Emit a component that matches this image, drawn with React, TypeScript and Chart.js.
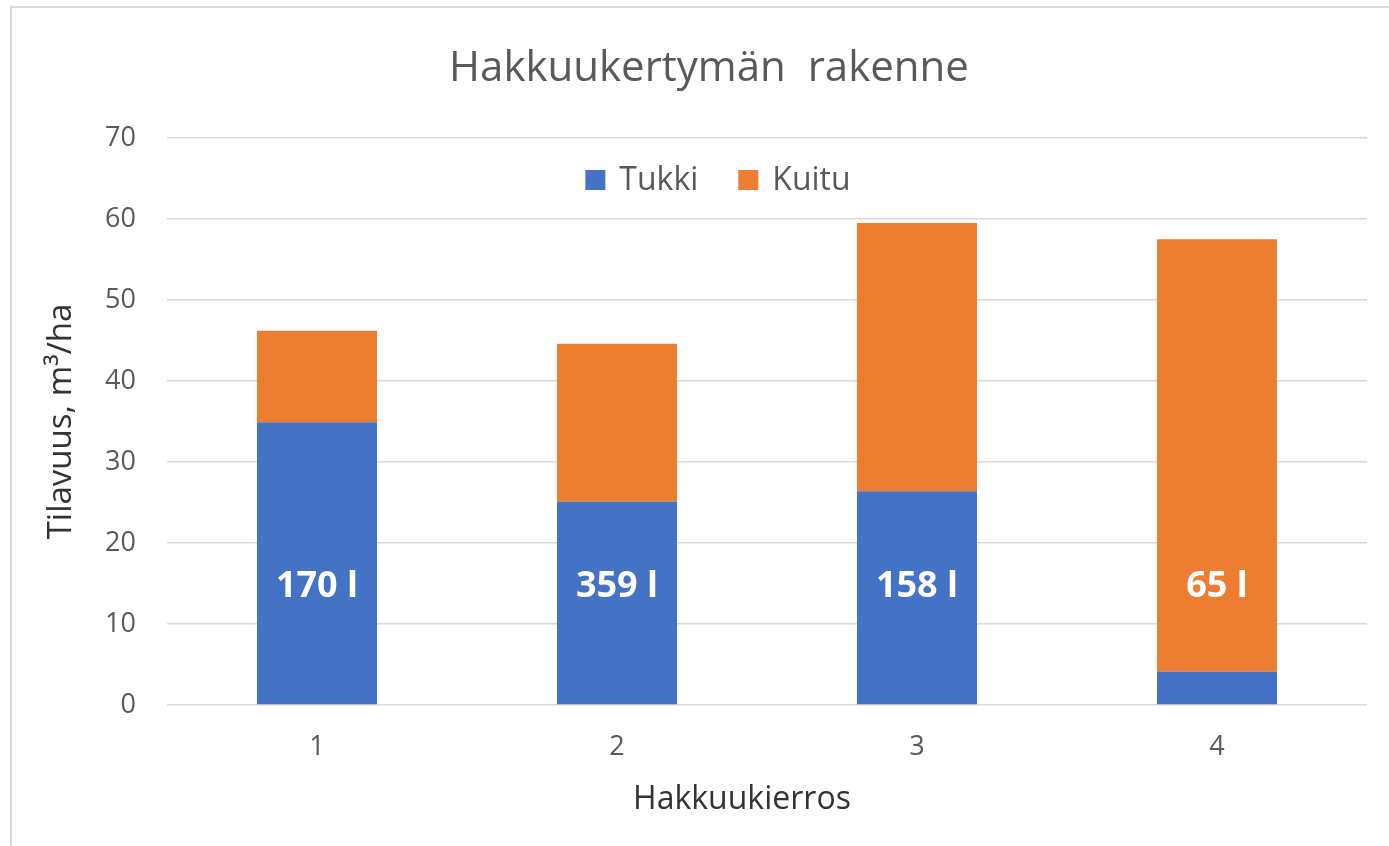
import React, { useEffect, useRef } from "react";
import { Chart, registerables } from "chart.js";

Chart.register(...registerables);

const categories = ["1", "2", "3", "4"];
const tukki = [34.9, 25.1, 26.4, 4.1];
const kuitu = [11.3, 19.5, 33.1, 53.4];
const barLabels = ["170 l", "359 l", "158 l", "65 l"];
const seriesNames = ["Tukki", "Kuitu"];
const yTicks = [0, 10, 20, 30, 40, 50, 60, 70];
const chartTitle = "Hakkuukertymän  rakenne";
const xTitle = "Hakkuukierros";
const yTitle = "Tilavuus, m³/ha";

const FONT = "'Open Sans', 'Noto Sans', sans-serif";

const textPlugin = {
  id: "texts",
  afterDraw(chart: any) {
    const ctx = chart.ctx;
    ctx.save();
    ctx.textBaseline = "middle";
    ctx.textAlign = "center";
    // chart title
    ctx.font = `42px ${FONT}`;
    ctx.fillStyle = "#595959";
    ctx.fillText(chartTitle, 709, 69);
    // x axis title
    ctx.font = `32px ${FONT}`;
    ctx.fillStyle = "#333333";
    ctx.fillText(xTitle, 742, 800);

    // legend
    const cx = 718;
    const cy = 180;
    const box = 20;
    const gapText = 14;
    const gapItem = 40;
    ctx.font = `32px ${FONT}`;
    const items = chart.data.datasets.map((d: any) => ({
      label: d.label,
      color: d.backgroundColor,
      w: ctx.measureText(d.label).width,
    }));
    const total =
      items.reduce((s: number, it: any) => s + box + gapText + it.w, 0) +
      gapItem * (items.length - 1);
    let x = cx - total / 2;
    ctx.textAlign = "left";
    items.forEach((it: any) => {
      ctx.fillStyle = it.color;
      ctx.fillRect(x, cy - box / 2, box, box);
      x += box + gapText;
      ctx.fillStyle = "#595959";
      ctx.fillText(it.label, x, cy + 1);
      x += it.w + gapItem;
    });
    ctx.restore();
  },
};

const barLabelPlugin = {
  id: "barLabels",
  afterDatasetsDraw(chart: any) {
    const ctx = chart.ctx;
    const meta = chart.getDatasetMeta(0);
    const yScale = chart.scales.y;
    const y = yScale.getPixelForValue(14.6);
    ctx.save();
    ctx.font = `bold 36px ${FONT}`;
    ctx.fillStyle = "#ffffff";
    ctx.textAlign = "center";
    ctx.textBaseline = "middle";
    meta.data.forEach((bar: any, i: number) => {
      ctx.fillText(barLabels[i], bar.x, y);
    });
    ctx.restore();
  },
};

export default function App() {
  const ref = useRef<HTMLCanvasElement | null>(null);

  useEffect(() => {
    if (!ref.current) return;
    const chart = new Chart(ref.current, {
      type: "bar",
      data: {
        labels: categories,
        datasets: [
          {
            label: seriesNames[0],
            data: tukki,
            backgroundColor: "#4472C4",
            barPercentage: 0.8,
            categoryPercentage: 0.5,
          },
          {
            label: seriesNames[1],
            data: kuitu,
            backgroundColor: "#ED7D31",
            barPercentage: 0.8,
            categoryPercentage: 0.5,
          },
        ],
      },
      options: {
        responsive: false,
        animation: false,
        layout: { padding: { left: 0, right: 22, top: 138, bottom: 0 } },
        plugins: {
          legend: { display: false },
          tooltip: { enabled: false },
          title: { display: false },
        },
        scales: {
          x: {
            stacked: true,
            grid: { display: false, drawTicks: false },
            border: { display: false },
            ticks: {
              color: "#595959",
              font: { family: FONT, size: 27 },
              padding: 26,
            },
            afterFit(scale: any) {
              scale.height = 141;
            },
          },
          y: {
            stacked: true,
            min: 0,
            max: 70,
            afterBuildTicks(scale: any) {
              scale.ticks = yTicks.map((v) => ({ value: v }));
            },
            grid: { color: "#d9d9d9", lineWidth: 1.5, drawTicks: false },
            border: { display: false },
            ticks: {
              color: "#595959",
              font: { family: FONT, size: 27 },
              padding: 31,
            },
            title: {
              display: true,
              text: yTitle,
              color: "#333333",
              font: { family: FONT, size: 33 },
              padding: { top: 42, bottom: 0 },
            },
            afterFit(scale: any) {
              scale.width = 167;
            },
          },
        },
      },
      plugins: [textPlugin, barLabelPlugin],
    });
    return () => chart.destroy();
  }, []);

  return (
    <div style={{ position: "fixed", left: 0, top: 0, width: 1389, height: 846, background: "#fff" }}>
      <canvas ref={ref} width={1389} height={846} style={{ display: "block" }} />
      <div
        style={{
          position: "absolute",
          left: 10,
          top: 6,
          right: 0,
          bottom: 0,
          borderLeft: "2px solid #d9d9d9",
          borderTop: "2px solid #d9d9d9",
          pointerEvents: "none",
        }}
      />
    </div>
  );
}
